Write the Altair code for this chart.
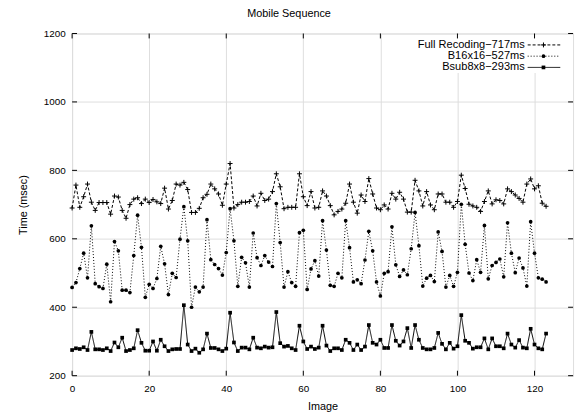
import altair as alt
import pandas as pd

# ---------------- data ----------------
full_recoding = [690, 757, 692, 723, 760, 707, 683, 706, 706, 706,
                 672, 725, 722, 683, 660, 700, 716, 720, 703, 716,
                 706, 715, 708, 703, 748, 687, 712, 760, 757, 765,
                 744, 677, 677, 689, 720, 730, 760, 746, 731, 698,
                 760, 820, 690, 700, 707, 707, 709, 725, 696, 733,
                 712, 716, 738, 790, 752, 688, 692, 692, 692, 790,
                 723, 697, 738, 690, 692, 740, 725, 697, 670, 680,
                 687, 704, 760, 707, 675, 728, 709, 776, 731, 690,
                 685, 699, 687, 733, 716, 736, 716, 678, 678, 771,
                 740, 696, 738, 699, 685, 731, 731, 707, 707, 692,
                 709, 786, 747, 701, 696, 692, 680, 709, 740, 702,
                 714, 712, 702, 746, 738, 728, 718, 707, 760, 775,
                 746, 755, 704, 695]

b16x16 = [458, 472, 513, 558, 486, 638, 469, 460, 455, 526,
          416, 592, 565, 450, 450, 443, 551, 669, 575, 429,
          467, 455, 484, 578, 527, 437, 499, 487, 599, 694,
          594, 400, 459, 445, 459, 656, 539, 525, 513, 494,
          560, 688, 594, 461, 546, 530, 459, 617, 545, 522,
          551, 532, 519, 703, 589, 459, 504, 472, 461, 618,
          625, 452, 512, 536, 491, 653, 567, 464, 461, 499,
          486, 653, 574, 474, 480, 469, 538, 622, 565, 474,
          433, 499, 504, 635, 524, 490, 509, 495, 571, 677,
          580, 462, 485, 493, 475, 620, 563, 459, 493, 461,
          502, 701, 584, 500, 478, 539, 502, 639, 483, 522,
          531, 541, 489, 647, 558, 501, 544, 515, 462, 650,
          558, 486, 482, 474]

bsub8x8 = [275, 280, 278, 283, 275, 328, 277, 277, 275, 280,
           272, 297, 283, 311, 272, 275, 280, 333, 296, 273,
           273, 300, 273, 305, 286, 272, 277, 278, 278, 406,
           291, 272, 279, 267, 277, 323, 281, 281, 277, 272,
           279, 384, 297, 272, 282, 282, 277, 311, 282, 280,
           285, 282, 283, 386, 295, 285, 287, 280, 275, 346,
           300, 278, 285, 278, 282, 346, 288, 272, 280, 280,
           275, 305, 296, 275, 291, 275, 285, 348, 296, 291,
           305, 281, 281, 348, 302, 288, 300, 339, 281, 348,
           305, 281, 277, 277, 281, 325, 293, 277, 296, 279,
           286, 377, 302, 296, 279, 283, 283, 309, 277, 309,
           286, 286, 280, 323, 291, 282, 304, 282, 280, 337,
           291, 280, 277, 323]

series_names = ["Full Recoding\u2212717ms", "B16x16\u2212527ms", "Bsub8x8\u2212293ms"]
x_ticks = [0, 20, 40, 60, 80, 100, 120]
y_ticks = [200, 400, 600, 800, 1000, 1200]

# ---------------- layout ----------------
W, H = 508, 347
FONT = "Liberation Sans"
PLUS = "M-1,0L1,0M0,-1L0,1"

n = len(full_recoding)
df = pd.DataFrame({
    "Image": list(range(n)) * 3,
    "Time": full_recoding + b16x16 + bsub8x8,
    "series": [series_names[0]] * n + [series_names[1]] * n + [series_names[2]] * n,
})

xscale = alt.Scale(domain=[0, 130], nice=False, zero=False)
yscale = alt.Scale(domain=[200, 1200], nice=False, zero=False)

x_axis = alt.Axis(values=x_ticks, format="d", title="Image", grid=True, ticks=False, domain=False,
                  labelPadding=8, titlePadding=7, labelFlush=False, titleFontWeight="normal")
y_axis = alt.Axis(values=y_ticks, format="d", title="Time (msec)", grid=True, ticks=False, domain=False,
                  labelPadding=7, titlePadding=15, labelFlush=False, titleFontWeight="normal")

X = alt.X("Image:Q", scale=xscale, axis=x_axis)
Y = alt.Y("Time:Q", scale=yscale, axis=y_axis)

base = alt.Chart(df)

# grid / axes carrier (invisible)
axes_layer = base.mark_point(opacity=0).encode(x=X, y=Y)

# white mask behind the key (hides grid there)
mask = alt.Chart(pd.DataFrame({"k": [0]})).mark_rect(fill="white").encode(
    x=alt.value(337), x2=alt.value(507), y=alt.value(1.5), y2=alt.value(40)
)

# inward tick marks on all four sides
xt = pd.DataFrame({"Image": x_ticks})
yt = pd.DataFrame({"Time": y_ticks})
tick_style = dict(color="black", strokeWidth=1)
ticks_bottom = alt.Chart(xt).mark_rule(**tick_style).encode(
    x=X, y=alt.value(H), y2=alt.value(H - 5))
ticks_top = alt.Chart(xt).mark_rule(**tick_style).encode(
    x=X, y=alt.value(0), y2=alt.value(5))
ticks_left = alt.Chart(yt).mark_rule(**tick_style).encode(
    y=Y, x=alt.value(0), x2=alt.value(5))
ticks_right = alt.Chart(yt).mark_rule(**tick_style).encode(
    y=Y, x=alt.value(W), x2=alt.value(W - 5))

styles = {
    series_names[0]: dict(dash=[3, 2], shape=PLUS, size=25, filled=False),
    series_names[1]: dict(dash=[1, 2], shape="circle", size=14, filled=True),
    series_names[2]: dict(dash=[1, 0], shape="square", size=14, filled=True),
}


def marker(chart, st):
    if st["filled"]:
        return chart.mark_point(shape=st["shape"], size=st["size"], color="black",
                                filled=True, opacity=1)
    return chart.mark_point(shape=st["shape"], size=st["size"], color="black",
                            filled=False, strokeWidth=1, opacity=1)


layers = [axes_layer, mask, ticks_bottom, ticks_top, ticks_left, ticks_right]
for name in series_names:
    st = styles[name]
    sub = base.transform_filter(alt.datum.series == name)
    layers.append(sub.mark_line(color="black", strokeWidth=1, strokeDash=st["dash"]).encode(x=X, y=Y))
    layers.append(marker(sub, st).encode(x=X, y=Y))

# key (legend) drawn manually, top-right inside the plot
key_rows = [11.6, 23.0, 34.4]
for name, yy in zip(series_names, key_rows):
    st = styles[name]
    kdf = pd.DataFrame({"label": [name]})
    layers.append(alt.Chart(kdf).mark_text(align="right", baseline="middle", font=FONT,
                                           fontSize=11.2, color="black").encode(
        text="label:N", x=alt.value(459), y=alt.value(yy)))
    layers.append(alt.Chart(kdf).mark_rule(color="black", strokeWidth=1, strokeDash=st["dash"]).encode(
        x=alt.value(462), x2=alt.value(495), y=alt.value(yy)))
    layers.append(marker(alt.Chart(kdf), st).encode(x=alt.value(478), y=alt.value(yy)))

chart = alt.layer(*layers).properties(
    width=W, height=H,
    title=alt.TitleParams("Mobile Sequence", anchor="middle", frame="group", dx=-34, dy=3,
                          offset=4, baseline="alphabetic", fontSize=11, fontWeight="normal",
                          font=FONT, color="black"),
    padding={"left": 65, "top": 23, "right": 4, "bottom": 36},
    autosize=alt.AutoSizeParams(type="none"),
).configure_view(
    stroke="black", strokeWidth=1
).configure_axis(
    labelFont=FONT, labelFontSize=11, labelColor="black",
    titleFont=FONT, titleFontSize=11, titleFontWeight="normal", titleColor="black",
    gridColor="#888888", gridDash=[1, 2], gridWidth=1, gridOpacity=1,
).configure(background="white")

chart.save("out.html", embed_options={"renderer": "svg", "actions": False})
